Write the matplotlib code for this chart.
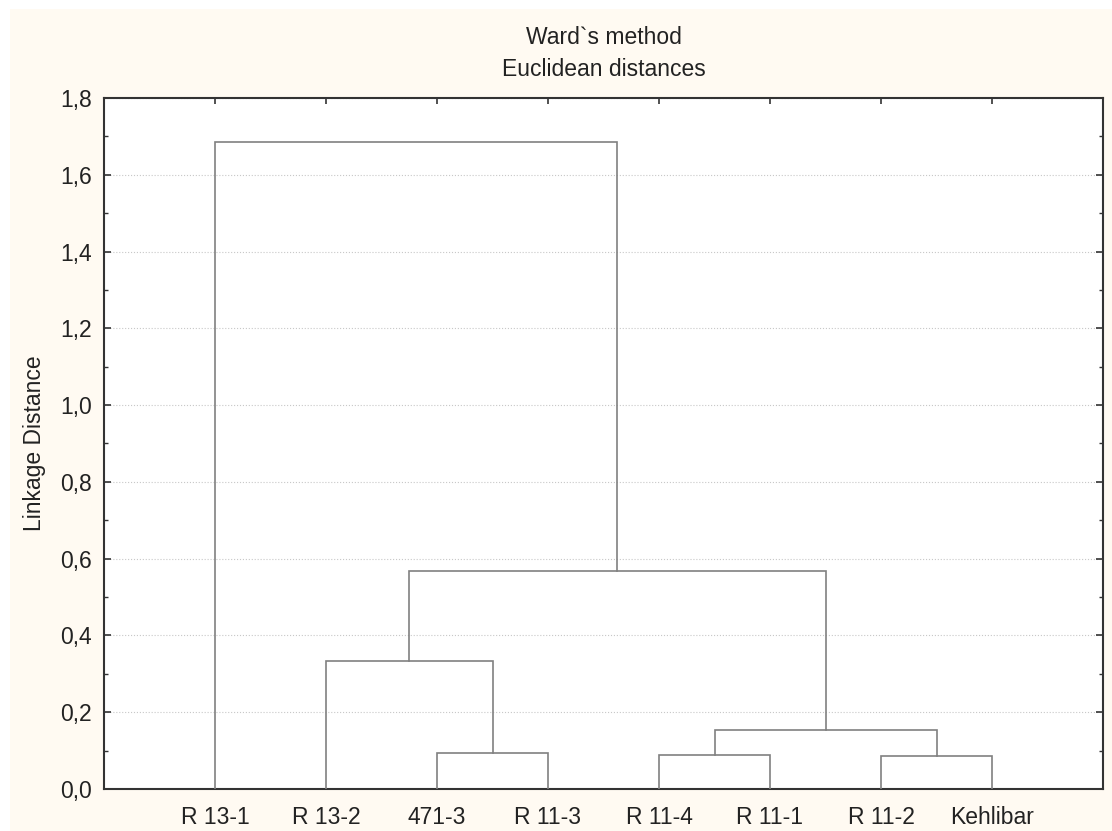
import matplotlib
matplotlib.use("Agg")
import matplotlib.pyplot as plt
from matplotlib.patches import Rectangle
from matplotlib.ticker import MultipleLocator, FuncFormatter

plt.rcParams['font.family'] = ['Liberation Sans', 'DejaVu Sans']

# leaves in dendrogram order
labels = ['R 13-1', 'R 13-2', '471-3', 'R 11-3', 'R 11-4', 'R 11-1', 'R 11-2', 'Kehlibar']
# merges: node ids 0..7 are leaves, each merge makes node 8, 9, ...
merge_left = [2, 4, 6, 1, 9, 11, 0]
merge_right = [3, 5, 7, 8, 10, 12, 13]
merge_height = [0.093, 0.089, 0.086, 0.334, 0.154, 0.569, 1.686]

line_col = '#808080'
cream = '#fffaf2'
fs = 16.5

fig = plt.figure(figsize=(11.12, 8.31), dpi=100)
# cream panel with a thin white border top and left
fig.patches.append(Rectangle((10 / 1112, 0), 1, 1 - 9 / 831, transform=fig.transFigure,
                             facecolor=cream, edgecolor='none', zorder=-10))

ax = fig.add_axes([104 / 1112, 1 - 789 / 831, 999 / 1112, 691 / 831])
ax.set_facecolor('white')

# node x positions and heights
xpos = {i: i + 1 for i in range(len(labels))}
ypos = {i: 0.0 for i in range(len(labels))}
for k in range(len(merge_height)):
    a, b, h = merge_left[k], merge_right[k], merge_height[k]
    ax.plot([xpos[a], xpos[a], xpos[b], xpos[b]], [ypos[a], h, h, ypos[b]],
            color=line_col, lw=1.2, solid_joinstyle='miter', zorder=3)
    node = len(labels) + k
    xpos[node] = (xpos[a] + xpos[b]) / 2
    ypos[node] = h

ax.set_xlim(0, len(labels) + 1)
ax.set_ylim(0, 1.8)

ax.set_xticks(range(1, len(labels) + 1))
ax.set_xticklabels(labels, fontsize=fs, color='#222222')
ax.tick_params(axis='x', which='both', bottom=False, top=True, direction='in',
               length=4, width=1.2, color='#333333', pad=12)

ax.yaxis.set_major_locator(MultipleLocator(0.2))
ax.yaxis.set_minor_locator(MultipleLocator(0.1))
ax.yaxis.set_major_formatter(FuncFormatter(lambda v, p: ('%.1f' % v).replace('.', ',')))
ax.tick_params(axis='y', which='major', left=True, right=True, direction='in',
               length=5, width=1.2, color='#333333', labelsize=fs, labelcolor='#222222', pad=9)
ax.tick_params(axis='y', which='minor', left=True, right=True, direction='in',
               length=3, width=1.0, color='#333333')

ax.yaxis.grid(True, which='major', linestyle=':', color='#c8c8c8', lw=0.8, zorder=0)
ax.set_axisbelow(True)

for s in ax.spines.values():
    s.set_color('#333333')
    s.set_linewidth(1.5)

ax.set_ylabel('Linkage Distance', fontsize=fs, color='#222222', labelpad=10)

cx = (104 + 1103) / 2 / 1112
fig.text(cx, 1 - 38 / 831, 'Ward`s method', ha='center', va='center', fontsize=fs, color='#222222')
fig.text(cx, 1 - 70 / 831, 'Euclidean distances', ha='center', va='center', fontsize=fs, color='#222222')

fig.savefig('out.png', dpi=100, facecolor='white')
